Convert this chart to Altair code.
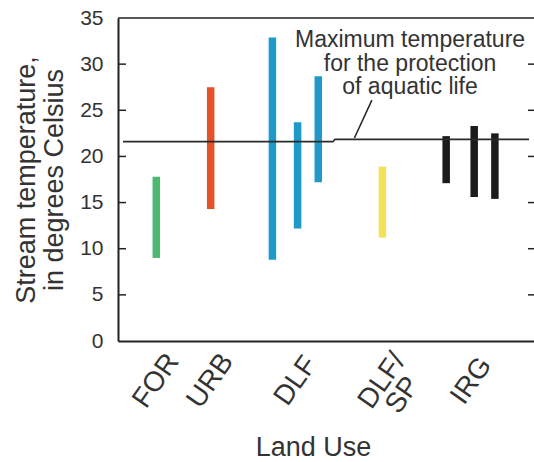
import altair as alt
import pandas as pd

# Stream temperature ranges by land use (degrees Celsius)
land_use = ["FOR", "URB", "DLF", "DLF", "DLF", "DLF/SP", "IRG", "IRG", "IRG"]
temp_min = [9.0, 14.3, 8.8, 12.2, 17.2, 11.2, 17.1, 15.6, 15.4]
temp_max = [17.8, 27.5, 32.9, 23.7, 28.7, 18.9, 22.2, 23.3, 22.5]

# Horizontal placement of each site along the land-use axis (0-100)
site_pos = [8.2, 21.6, 36.8, 43.0, 48.1, 63.9, 79.6, 86.5, 91.6]

categories = ["FOR", "URB", "DLF", "DLF/SP", "IRG"]
cat_colors = ["#4cb870", "#e4512b", "#1f9ac8", "#f2e25a", "#1b1b1b"]

# Maximum temperature for the protection of aquatic life
limit_x = [0, 51.7, 52.2, 100]
limit_y = [21.6, 21.6, 21.85, 21.85]

# Leader from the annotation to the limit line
leader_x = [57.0, 61.3]
leader_y = [22.0, 26.1]

note_lines = ["Maximum temperature", "for the protection", "of aquatic life"]
note_x = [70.7]
note_y = [32.6]

y_ticks = [0, 5, 10, 15, 20, 25, 30, 35]
inner_ticks = [5, 10, 15, 20, 25, 30]

W, H = 416, 323
FONT = "Liberation Sans"
INK = "#333333"

sites = pd.DataFrame({"land_use": land_use, "tmin": temp_min,
                      "tmax": temp_max, "pos": site_pos})
limit = pd.DataFrame({"x": limit_x, "y": limit_y})
leader = pd.DataFrame({"x": leader_x, "y": leader_y})
note = pd.DataFrame({"x": note_x, "y": note_y, "t": ["\n".join(note_lines)]})
ticks = pd.DataFrame({"y": inner_ticks})

x_scale = alt.Scale(domain=[0, 100], nice=False, zero=False)
y_scale = alt.Scale(domain=[0, 35], nice=False)

x_axis = alt.Axis(labels=False, ticks=False, grid=False, domain=True,
                  domainColor="#222222", domainWidth=2,
                  title="Land Use", titleFont=FONT, titleFontSize=27,
                  titleFontWeight="normal", titleColor=INK,
                  titleX=195, titleY=114, titleBaseline="alphabetic")
y_axis = alt.Axis(values=y_ticks, ticks=False, grid=False, domain=True,
                  domainColor="#222222", domainWidth=2,
                  labelFont=FONT, labelFontSize=21,
                  labelColor=INK, labelPadding=15,
                  title=["Stream temperature,", "in degrees Celsius"],
                  titleFont=FONT, titleFontSize=27, titleFontWeight="normal",
                  titleColor=INK, titlePadding=11, titleLineHeight=28)

bars = alt.Chart(sites).mark_bar(size=7.5).encode(
    x=alt.X("pos:Q", scale=x_scale, axis=x_axis),
    y=alt.Y("tmin:Q", scale=y_scale, axis=y_axis),
    y2="tmax:Q",
    color=alt.Color("land_use:N", scale=alt.Scale(domain=categories, range=cat_colors),
                    legend=None),
)

limit_line = alt.Chart(limit).mark_line(color="#2a2a2a", strokeWidth=1.6).encode(
    x=alt.X("x:Q", scale=x_scale), y=alt.Y("y:Q", scale=y_scale))

leader_line = alt.Chart(leader).mark_line(color="#222222", strokeWidth=1.5).encode(
    x=alt.X("x:Q", scale=x_scale), y=alt.Y("y:Q", scale=y_scale))

note_text = alt.Chart(note).mark_text(
    font=FONT, fontSize=23, color=INK, align="center", baseline="middle",
    lineBreak="\n", lineHeight=23.5,
).encode(x=alt.X("x:Q", scale=x_scale), y=alt.Y("y:Q", scale=y_scale), text="t:N")

top_border = alt.Chart(pd.DataFrame({"y": [35]})).mark_rule(
    color="#222222", strokeWidth=1.5).encode(y=alt.Y("y:Q", scale=y_scale))

left_ticks = alt.Chart(ticks).mark_rule(color="#222222", strokeWidth=1.5).encode(
    y=alt.Y("y:Q", scale=y_scale), x=alt.value(0), x2=alt.value(8))
right_ticks = alt.Chart(ticks).mark_rule(color="#222222", strokeWidth=1.5).encode(
    y=alt.Y("y:Q", scale=y_scale), x=alt.value(W - 6), x2=alt.value(W))

cat_labels = alt.Chart(sites).transform_aggregate(
    center="mean(pos)", groupby=["land_use"]
).transform_calculate(
    label="replace(datum.land_use, '/', '/\\n')"
).mark_text(
    font=FONT, fontSize=28, color=INK, angle=305, align="center",
    baseline="middle", lineBreak="\n", lineHeight=25,
).encode(x=alt.X("center:Q", scale=x_scale), y=alt.value(H + 40), text="label:N")

chart = alt.layer(
    bars, top_border, left_ticks, right_ticks, limit_line, leader_line,
    note_text, cat_labels,
).properties(
    width=W, height=H,
    padding={"left": 118, "top": 18, "right": 0, "bottom": 121},
    autosize="none",
).configure_view(stroke=None)

chart.save("out.html", embed_options={"renderer": "svg", "actions": False})
